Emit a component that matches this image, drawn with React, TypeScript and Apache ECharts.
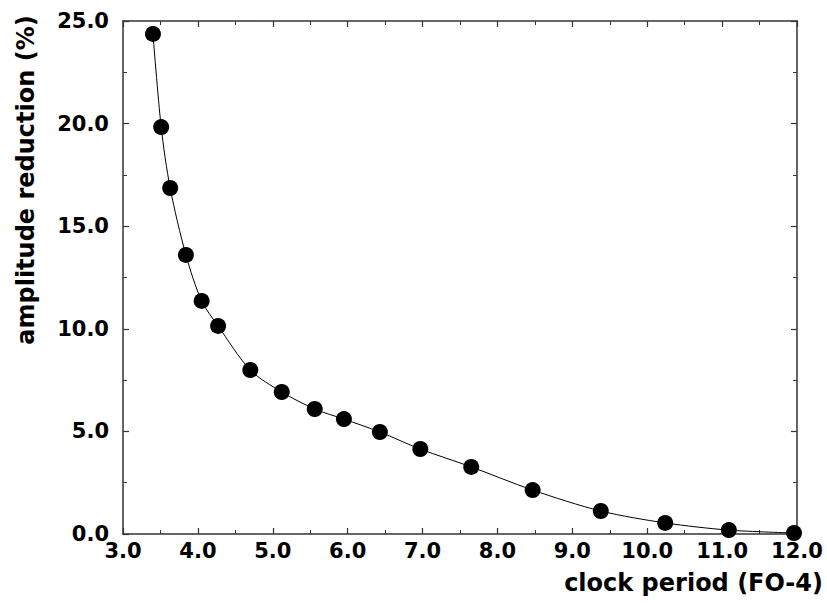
import React, { useEffect, useRef } from "react";
import * as echarts from "echarts";

const clockPeriod = [3.4, 3.51, 3.63, 3.84, 4.05, 4.27, 4.7, 5.12, 5.56, 5.95, 6.43, 6.97, 7.65, 8.47, 9.38, 10.24, 11.09, 11.96];
const amplitudeReduction = [24.37, 19.83, 16.86, 13.6, 11.36, 10.14, 7.99, 6.92, 6.09, 5.6, 4.97, 4.14, 3.27, 2.14, 1.12, 0.54, 0.19, 0.05];

const xTitle = "clock period (FO-4)";
const yTitle = "amplitude reduction (%)";

const FONT = "DejaVu Sans";

export default function App() {
  const ref = useRef<HTMLDivElement>(null);
  useEffect(() => {
    if (!ref.current) return;
    const chart = echarts.init(ref.current, undefined, { renderer: "svg" });
    const axisLine = { show: true, onZero: false, lineStyle: { color: "#333", width: 1.5 } };
    const axisTick = { show: true, inside: true, length: 6, lineStyle: { color: "#333", width: 1.2 } };
    const minorTick = { show: true, splitNumber: 2, length: 4, lineStyle: { color: "#333", width: 1 } };
    const labelStyle = { color: "#000", fontFamily: FONT, fontWeight: "bold" as const, fontSize: 21 };
    const fmt = (v: number) => v.toFixed(1);
    chart.setOption({
      animation: false,
      backgroundColor: "#fff",
      grid: { left: 123, right: 30, top: 21, bottom: 74, containLabel: false },
      xAxis: [
        {
          type: "value", min: 3, max: 12, interval: 1, position: "bottom",
          axisLine, axisTick, minorTick, splitLine: { show: false },
          axisLabel: { ...labelStyle, margin: 6, formatter: fmt },
        },
        {
          type: "value", min: 3, max: 12, interval: 1, position: "top",
          axisLine, axisTick, minorTick, splitLine: { show: false },
          axisLabel: { show: false },
        },
      ],
      yAxis: [
        {
          type: "value", min: 0, max: 25, interval: 5, position: "left",
          axisLine, axisTick, minorTick, splitLine: { show: false },
          axisLabel: { ...labelStyle, margin: 14, formatter: fmt },
        },
        {
          type: "value", min: 0, max: 25, interval: 5, position: "right",
          axisLine, axisTick, minorTick, splitLine: { show: false },
          axisLabel: { show: false },
        },
      ],
      graphic: [
        {
          type: "text", x: 823, y: 583,
          style: { text: xTitle, fill: "#000", font: `bold 24px "${FONT}"`, align: "right", verticalAlign: "middle" },
        },
        {
          type: "text", x: 26, y: 180, rotation: Math.PI / 2,
          style: { text: yTitle, fill: "#000", font: `bold 24px "${FONT}"`, align: "center", verticalAlign: "middle" },
        },
      ],
      series: [
        {
          type: "line",
          data: clockPeriod.map((x, i) => [x, amplitudeReduction[i]]),
          smooth: 0.3,
          symbol: "circle",
          symbolSize: 16,
          itemStyle: { color: "#000" },
          lineStyle: { color: "#000", width: 1 },
          z: 3,
        },
      ],
    });
    return () => chart.dispose();
  }, []);
  return <div ref={ref} style={{ position: "fixed", left: 0, top: 0, width: 827, height: 608, background: "#fff" }} />;
}
